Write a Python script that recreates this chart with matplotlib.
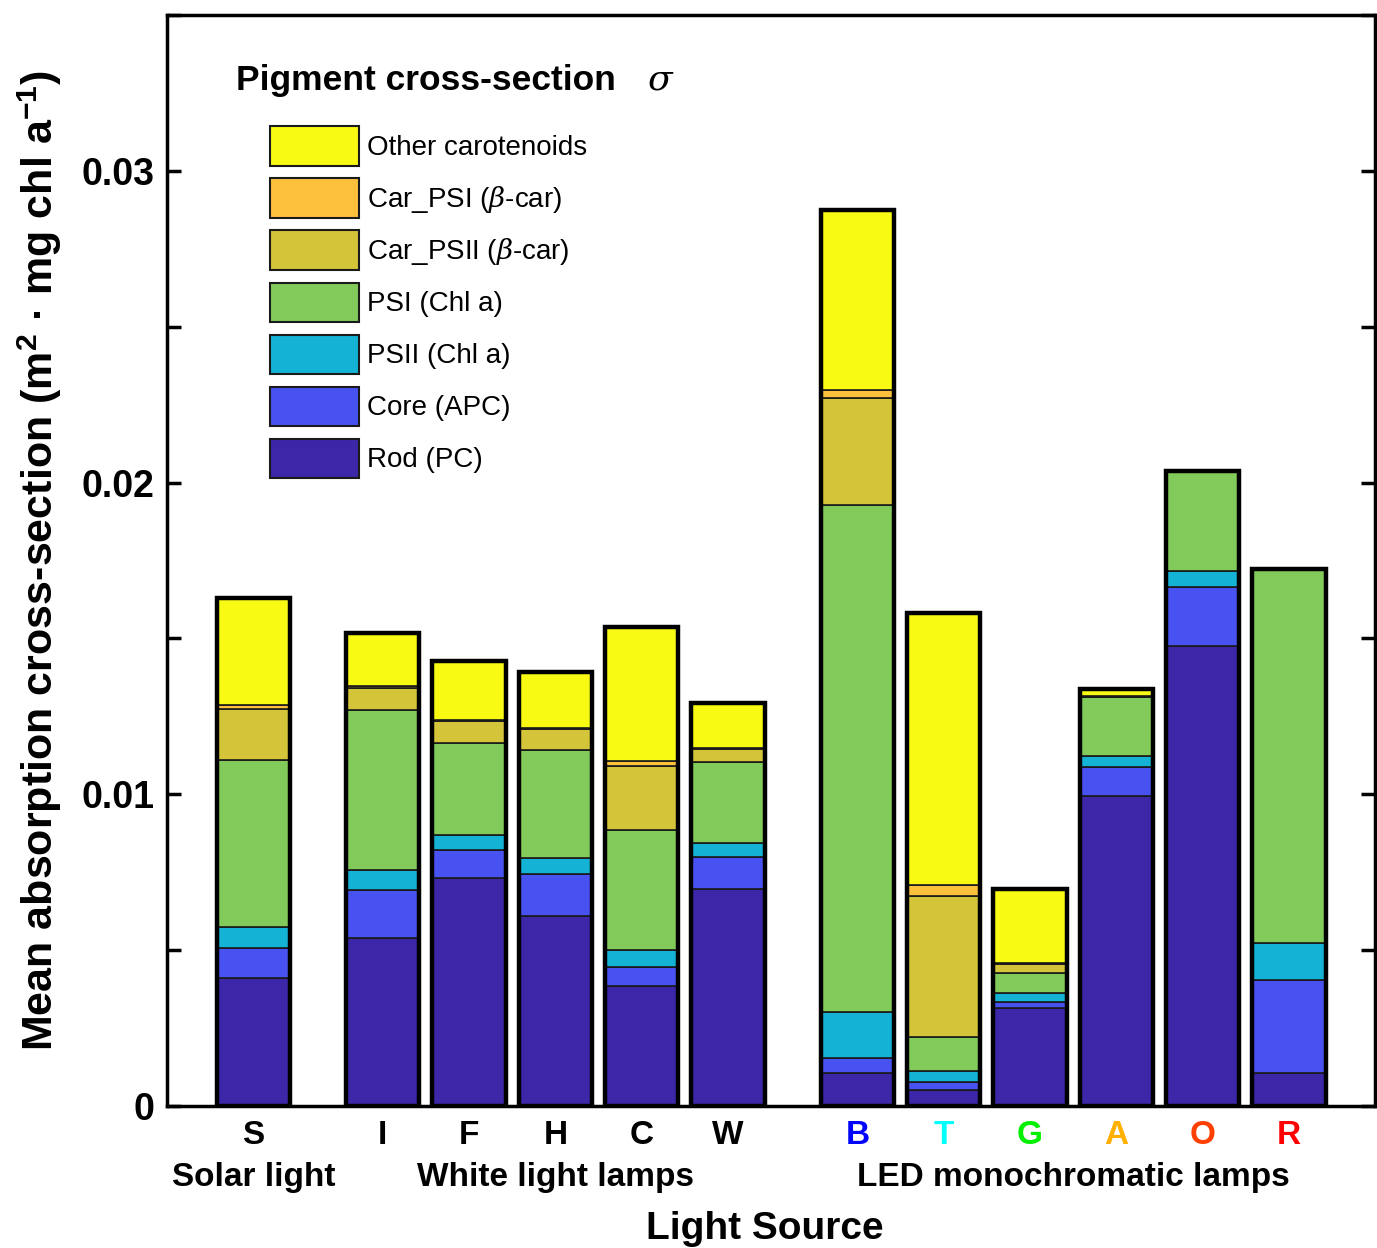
import matplotlib
matplotlib.use('Agg')
import matplotlib.pyplot as plt
from matplotlib.patches import Patch
import matplotlib.transforms as mtransforms
import numpy as np

plt.rcParams['font.family'] = ['Liberation Sans', 'DejaVu Sans']
plt.rcParams['mathtext.fontset'] = 'custom'
plt.rcParams['mathtext.rm'] = 'Liberation Sans'
plt.rcParams['mathtext.bf'] = 'Liberation Sans:bold'
plt.rcParams['mathtext.it'] = 'DejaVu Serif:italic'

# light sources and their x positions (gaps between groups)
sources = ['S', 'I', 'F', 'H', 'C', 'W', 'B', 'T', 'G', 'A', 'O', 'R']
xpos = [1, 2.5, 3.5, 4.5, 5.5, 6.5, 8, 9, 10, 11, 12, 13]
label_colors = ['black'] * 6 + ['#0000FF', '#00FFFF', '#00F000', '#FFB000', '#FF4000', '#FF0000']

groups = ['Solar light', 'White light lamps', 'LED monochromatic lamps']
group_x = [1, 4.5, 10.5]

# pigment cross-sections (stack order: bottom to top)
rod = [0.00410, 0.00540, 0.00732, 0.00608, 0.00385, 0.00695, 0.00105, 0.00051, 0.00313, 0.00995, 0.01477, 0.00105]
core = [0.00097, 0.00152, 0.00088, 0.00135, 0.00060, 0.00105, 0.00050, 0.00026, 0.00020, 0.00091, 0.00188, 0.00300]
psii = [0.00066, 0.00066, 0.00049, 0.00053, 0.00055, 0.00044, 0.00148, 0.00034, 0.00030, 0.00038, 0.00051, 0.00117]
psi = [0.00537, 0.00511, 0.00296, 0.00347, 0.00386, 0.00260, 0.01626, 0.00109, 0.00062, 0.00188, 0.00320, 0.01201]
car_psii = [0.00165, 0.00072, 0.00070, 0.00066, 0.00204, 0.00041, 0.00342, 0.00454, 0.00032, 0.00001, 0.0, 0.0]
car_psi = [0.00012, 0.00005, 0.00004, 0.00003, 0.00016, 0.00003, 0.00026, 0.00035, 0.00002, 0.00001, 0.0, 0.0]
other = [0.00342, 0.00170, 0.00189, 0.00180, 0.00429, 0.00146, 0.00577, 0.00873, 0.00237, 0.00025, 0.0, 0.0]

series = [rod, core, psii, psi, car_psii, car_psi, other]
names = ['Rod (PC)', 'Core (APC)', 'PSII (Chl a)', 'PSI (Chl a)',
         r'Car_PSII ($\beta$-car)', r'Car_PSI ($\beta$-car)', 'Other carotenoids']
colors = ['#3D27A8', '#4852F0', '#14B3D6', '#82CB5A', '#D4C43A', '#FDC03C', '#F8FA14']

fig = plt.figure(figsize=(13.77, 12.48), dpi=100)
ax = fig.add_axes([0.1213, 0.1138, 0.8775, 0.8742])

w = 0.85
bottom = np.zeros(len(xpos))
for vals, c in zip(series, colors):
    ax.bar(xpos, vals, width=w, bottom=bottom, color=c, edgecolor='#1a1a1a', linewidth=1.2)
    bottom += np.array(vals)
ax.bar(xpos, bottom, width=w, fill=False, edgecolor='black', linewidth=3.2, zorder=3)

ax.set_xlim(0, 14)
ax.set_ylim(0, 0.035)
ax.set_yticks(np.arange(0, 0.0351, 0.005))
ax.set_yticklabels(['0', '', '0.01', '', '0.02', '', '0.03', ''])
ax.set_xticks(xpos)
ax.set_xticklabels(sources)
for t, c in zip(ax.get_xticklabels(), label_colors):
    t.set_color(c)
    t.set_fontweight('bold')
    t.set_fontsize(24)
for t in ax.get_yticklabels():
    t.set_fontweight('bold')
    t.set_fontsize(27)
ax.tick_params(axis='y', direction='in', length=10, width=2.5, right=True, pad=9)
ax.tick_params(axis='x', length=0, pad=10)
for s in ax.spines.values():
    s.set_linewidth(2.5)

trans = mtransforms.blended_transform_factory(ax.transData, ax.transAxes)
for g, gx in zip(groups, group_x):
    ax.text(gx, -0.066, g, transform=trans, ha='center', va='center',
            fontsize=24, fontweight='bold')

ax.set_xlabel('Light Source', fontsize=28, fontweight='bold')
ax.xaxis.set_label_coords(0.495, -0.096)
ax.set_ylabel(r'Mean absorption cross-section (m$^\mathbf{2}$ · mg chl a$^\mathbf{-1}$)',
              fontsize=31, fontweight='bold')
ax.yaxis.set_label_coords(-0.085, 0.5)

ax.text(0.057, 0.94, 'Pigment cross-section', transform=ax.transAxes,
        fontsize=25.5, fontweight='bold', va='center', ha='left')
ax.text(0.397, 0.94, r'$\sigma$', transform=ax.transAxes,
        fontsize=26, va='center', ha='left')

handles = [Patch(facecolor=c, edgecolor='#1a1a1a', linewidth=1.5, label=n)
           for c, n in zip(colors, names)][::-1]
ax.legend(handles=handles, loc='upper left', bbox_to_anchor=(0.085, 0.898),
          frameon=False, fontsize=20, handlelength=3.2, handleheight=1.8,
          labelspacing=0.46, handletextpad=0.3, borderpad=0, borderaxespad=0)

fig.savefig('out.png', dpi=100)
